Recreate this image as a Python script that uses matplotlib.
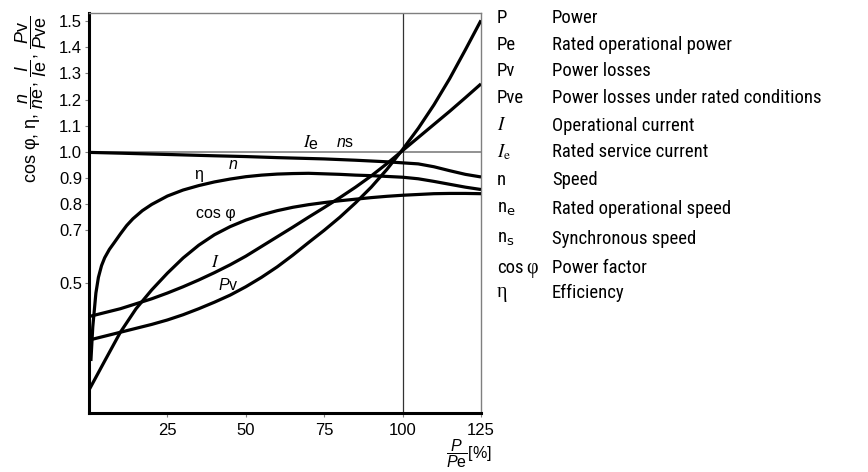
import matplotlib
matplotlib.use("Agg")
import matplotlib.pyplot as plt
import numpy as np

plt.rcParams['font.family'] = ['Liberation Sans', 'DejaVu Sans']
plt.rcParams['mathtext.fontset'] = 'custom'
plt.rcParams['mathtext.rm'] = 'Liberation Sans'
plt.rcParams['mathtext.it'] = 'Liberation Sans:italic'
plt.rcParams['mathtext.sf'] = 'Liberation Sans'

# ---- data (x = P/Pe in %) ----
n_x = [0, 10, 25, 40, 50, 60, 75, 85, 95, 100, 105, 110, 115, 120, 125]
n_y = [0.998, 0.995, 0.99, 0.985, 0.982, 0.978, 0.973, 0.968, 0.962, 0.958,
       0.954, 0.943, 0.928, 0.914, 0.904]

eta_x = [0.6, 1.2, 2.2, 3, 4, 5, 6.5, 8, 10, 12, 14, 17, 20, 25, 30, 35, 40,
         45, 50, 55, 60, 65, 70, 75, 80, 85, 90, 95, 100, 105, 110, 115, 120, 125]
eta_y = [0.20, 0.33, 0.46, 0.52, 0.565, 0.595, 0.627, 0.652, 0.686, 0.718,
         0.744, 0.775, 0.799, 0.831, 0.854, 0.871, 0.885, 0.896, 0.905, 0.911,
         0.915, 0.917, 0.918, 0.916, 0.914, 0.911, 0.909, 0.906, 0.903, 0.897,
         0.887, 0.876, 0.865, 0.856]

cos_x = [0, 5, 10, 15, 20, 25, 30, 35, 40, 45, 50, 55, 60, 65, 70, 75, 80, 85,
         90, 95, 100, 105, 110, 115, 120, 125]
cos_y = [0.089, 0.20, 0.31, 0.40, 0.472, 0.536, 0.594, 0.643, 0.683, 0.714,
         0.739, 0.759, 0.775, 0.788, 0.798, 0.806, 0.813, 0.819, 0.825, 0.830,
         0.834, 0.837, 0.840, 0.841, 0.841, 0.840]

cur_x = [0, 10, 20, 25, 30, 35, 40, 45, 50, 55, 60, 65, 70, 75, 80, 85, 90, 95,
         100, 105, 110, 115, 120, 125]
cur_y = [0.37, 0.40, 0.438, 0.46, 0.484, 0.51, 0.538, 0.568, 0.601, 0.638,
         0.675, 0.712, 0.75, 0.787, 0.825, 0.865, 0.908, 0.955, 1.005, 1.055,
         1.105, 1.155, 1.207, 1.26]

pv_x = [0, 10, 20, 25, 30, 35, 40, 45, 50, 55, 60, 65, 70, 75, 80, 85, 90, 95,
        100, 105, 110, 115, 120, 125]
pv_y = [0.28, 0.31, 0.34, 0.357, 0.377, 0.40, 0.425, 0.452, 0.484, 0.52, 0.56,
        0.605, 0.653, 0.70, 0.75, 0.805, 0.865, 0.933, 1.009, 1.09, 1.18, 1.28,
        1.39, 1.503]

y_ticks = [0.5, 0.7, 0.8, 0.9, 1.0, 1.1, 1.2, 1.3, 1.4, 1.5]
x_ticks = [25, 50, 75, 100, 125]

legend_sym = ['P', 'Pe', 'Pv', 'Pve', r'$I$', r'$I_{\mathrm{e}}$', 'n',
              r'n$_{\mathrm{e}}$', r'n$_{\mathrm{s}}$', 'cos φ', 'η']
legend_txt = ['Power', 'Rated operational power', 'Power losses',
              'Power losses under rated conditions', 'Operational current',
              'Rated service current', 'Speed', 'Rated operational speed',
              'Synchronous speed', 'Power factor', 'Efficiency']
legend_ypx = [18, 45, 71, 98, 126, 152, 180, 209, 239, 268, 293]

W, H = 868, 472
fig = plt.figure(figsize=(W / 100, H / 100), dpi=100)
ax = fig.add_axes([89 / W, 1 - 413.3 / H, (481 - 89) / W, (413.3 - 13.3) / H])

ax.set_xlim(0, 125)
ax.set_ylim(0, 1.53)

ax.axhline(1.0, color='#7f7f7f', lw=1.2, zorder=1)
ax.axvline(100, color='#333333', lw=0.9, zorder=1)

lw = 2.3
for xs, ys in [(n_x, n_y), (eta_x, eta_y), (cos_x, cos_y), (cur_x, cur_y), (pv_x, pv_y)]:
    ax.plot(xs, ys, color='black', lw=lw, solid_joinstyle='round',
            solid_capstyle='butt', zorder=3)

for s in ['left', 'bottom']:
    ax.spines[s].set_linewidth(2.2)
    ax.spines[s].set_color('black')
for s in ['top', 'right']:
    ax.spines[s].set_linewidth(1.0)
    ax.spines[s].set_color('#7f7f7f')

ax.set_yticks(y_ticks)
ax.set_yticklabels([f'{v:.1f}' for v in y_ticks])
ax.set_xticks(x_ticks)
ax.set_xticklabels([str(v) for v in x_ticks])
ax.tick_params(axis='both', direction='out', length=3, width=0.8,
               color='#7f7f7f', labelsize=12, pad=2)
ax.tick_params(axis='x', pad=4)

# curve labels
fs = 11.5
ax.text(71.0, 1.036, r'$I$', fontsize=fs + 1, ha='right', va='center',
        math_fontfamily='stix')
ax.text(70.0, 1.030, 'e', fontsize=fs, ha='left', va='center')
ax.text(81.6, 1.036, r'$n\mathrm{s}$', fontsize=fs, ha='center', va='center')
ax.text(45.9, 0.951, r'$n$', fontsize=fs, ha='center', va='center')
ax.text(34.8, 0.913, 'η', fontsize=fs, ha='center', va='center')
ax.text(40.5, 0.766, 'cos φ', fontsize=fs, ha='center', va='center')
ax.text(40.2, 0.58, r'$I$', fontsize=fs + 1, ha='center', va='center',
        math_fontfamily='stix')
ax.text(44.3, 0.49, r'$P\mathrm{v}$', fontsize=fs, ha='center', va='center')

# y label
fig.text(31 / W, 1 - 99 / H,
         r'cos φ, η, $\dfrac{n}{n\mathrm{e}}$, $\dfrac{I}{I\mathrm{e}}$, $\dfrac{P\mathrm{v}}{P\mathrm{ve}}$',
         rotation=90, ha='center', va='center', fontsize=13)
# x label
fig.text(469 / W, 1 - 454 / H, r'$\dfrac{P}{P\mathrm{e}}$[%]', ha='center',
         va='center', fontsize=11.5)

# legend
nar = ['Roboto Condensed', 'Liberation Sans', 'DejaVu Sans']
serif = ['Liberation Serif', 'DejaVu Serif']
lfs = 13.5
for sym, txt, ypx in zip(legend_sym, legend_txt, legend_ypx):
    y = 1 - ypx / H
    if sym.startswith(r'$I'):
        fig.text(497 / W, y, sym, fontsize=lfs, va='center', ha='left',
                 math_fontfamily='stix')
    elif sym == 'η':
        fig.text(497 / W, y, sym, fontsize=lfs + 1, va='center', ha='left',
                 family=serif)
    elif sym == 'cos φ':
        fig.text(497 / W, y, 'cos', fontsize=lfs, va='center', ha='left',
                 family=nar)
        fig.text(526 / W, y, 'φ', fontsize=lfs + 1, va='center', ha='left',
                 family=serif)
    else:
        fig.text(497 / W, y, sym, fontsize=lfs, va='center', ha='left',
                 family=nar, math_fontfamily='dejavusans')
    fig.text(552 / W, y, txt, fontsize=lfs, va='center', ha='left',
             family=nar)

fig.savefig('out.png', dpi=100)
